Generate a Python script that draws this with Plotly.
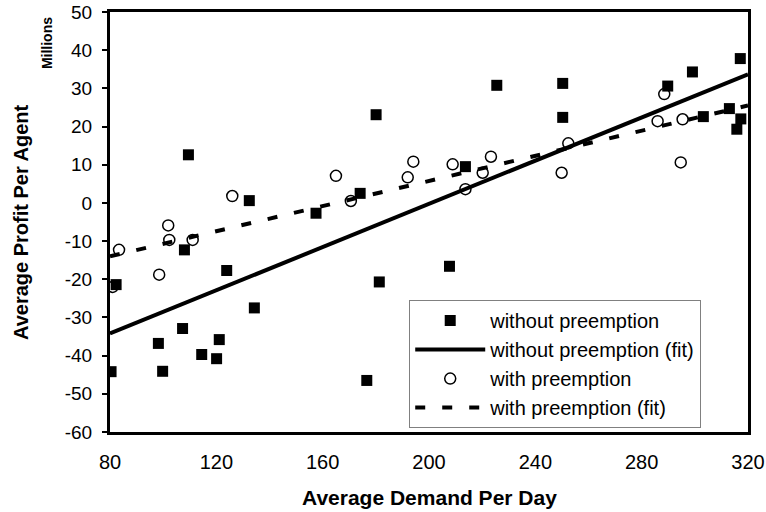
import plotly.graph_objects as go

# ---- data ----
without_x = [80.4, 82.3, 98.2, 99.8, 107.3, 108.0, 109.5, 114.5, 120.1, 121.1,
             123.9, 132.4, 134.3, 157.5, 174.1, 176.6, 180.1, 181.3, 207.7, 213.7,
             225.5, 250.3, 250.3, 289.8, 299.1, 303.2, 313.0, 315.8, 317.1, 317.3]
without_y = [-44.2, -21.4, -36.8, -44.1, -32.9, -12.3, 12.6, -39.7, -40.8, -35.8,
             -17.7, 0.6, -27.5, -2.7, 2.5, -46.5, 23.1, -20.7, -16.6, 9.5,
             30.8, 31.3, 22.4, 30.6, 34.3, 22.6, 24.7, 19.3, 37.8, 22.0]

with_x = [81.0, 83.4, 98.5, 101.9, 102.3, 111.1, 126.0, 165.0, 170.6, 192.0, 194.1,
          208.9, 213.7, 220.2, 223.3, 249.9, 252.4, 286.0, 288.5, 294.7, 295.4]
with_y = [-22.0, -12.3, -18.8, -5.9, -9.7, -9.7, 1.8, 7.1, 0.5, 6.7, 10.8,
          10.1, 3.6, 7.9, 12.1, 7.9, 15.6, 21.4, 28.5, 10.6, 21.9]

fit_x = [80, 320]
fit_without_y = [-34.2, 33.7]
fit_with_y = [-14.0, 25.5]

x_ticks = [80, 120, 160, 200, 240, 280, 320]
y_ticks = [-60, -50, -40, -30, -20, -10, 0, 10, 20, 30, 40, 50]

FONT = "Arial, 'Liberation Sans', sans-serif"

fig = go.Figure()
fig.add_trace(go.Scatter(
    x=without_x, y=without_y, mode="markers", name="without preemption",
    marker=dict(symbol="square", size=11, color="black", line=dict(width=0))))
fig.add_trace(go.Scatter(
    x=fit_x, y=fit_without_y, mode="lines", name="without preemption (fit)",
    line=dict(color="black", width=4)))
fig.add_trace(go.Scatter(
    x=with_x, y=with_y, mode="markers", name="with preemption",
    marker=dict(symbol="circle-open", size=11, color="black", line=dict(width=1.5))))
fig.add_trace(go.Scatter(
    x=fit_x, y=fit_with_y, mode="lines", name="with preemption (fit)",
    line=dict(color="black", width=4, dash="10px,17px")))

fig.update_layout(
    width=766, height=512,
    margin=dict(l=110, r=18, t=12, b=80, autoexpand=False),
    paper_bgcolor="white", plot_bgcolor="white",
    font=dict(family=FONT, color="black"),
    showlegend=True,
    legend=dict(
        x=0.469, y=0.314, xanchor="left", yanchor="top",
        bgcolor="white", bordercolor="#808080", borderwidth=1,
        font=dict(size=20, family=FONT, color="black"),
        itemwidth=70, tracegroupgap=0,
    ),
    xaxis=dict(
        range=[80, 320], tickvals=x_ticks, ticktext=[str(v) for v in x_ticks],
        showgrid=False, zeroline=False, automargin=False,
        showline=True, linecolor="black", linewidth=3, mirror=True,
        ticks="", tickfont=dict(size=20, family=FONT, color="black"),
        ticklabelstandoff=10, ticklabeloverflow="allow",
    ),
    yaxis=dict(
        range=[-60, 50], tickvals=y_ticks, ticktext=[str(v) for v in y_ticks],
        showgrid=False, zeroline=False, automargin=False,
        showline=True, linecolor="black", linewidth=3, mirror=True,
        ticks="outside", ticklen=5, tickwidth=1.5, tickcolor="black",
        tickfont=dict(size=19, family=FONT, color="black"),
        ticklabelstandoff=6, ticklabeloverflow="allow",
    ),
    annotations=[
        dict(text="<b>Average Demand Per Day</b>", xref="paper", yref="paper",
             x=0.5, y=-0.1548, xanchor="center", yanchor="middle",
             showarrow=False, font=dict(size=21, family=FONT, color="black")),
        dict(text="<b>Average Profit Per Agent</b>", xref="paper", yref="paper",
             x=-0.1395, y=0.5, xanchor="center", yanchor="middle", textangle=-90,
             showarrow=False, font=dict(size=20, family=FONT, color="black")),
        dict(text="<b>Millions</b>", xref="paper", yref="paper",
             x=-0.0987, y=0.926, xanchor="center", yanchor="middle", textangle=-90,
             showarrow=False, font=dict(size=14, family=FONT, color="black")),
    ],
)

# remove the browser's default 8px body margin so the figure fills the window
fig.write_html("out.html",
               config={"displayModeBar": False},
               post_script="document.body.style.margin='0';document.body.style.overflow='hidden';")
